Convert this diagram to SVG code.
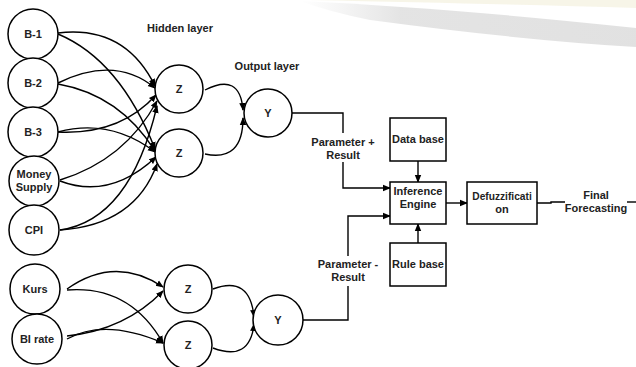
<svg xmlns="http://www.w3.org/2000/svg" width="636" height="367" viewBox="0 0 636 367">
<style>
.n{fill:#fff;stroke:#000;stroke-width:1.5}
.t{font-family:"Liberation Sans",Arial,sans-serif;font-weight:bold;font-size:11px;fill:#222;text-anchor:middle}
.c{fill:none;stroke:#000;stroke-width:1.4}
.a{marker-end:url(#ah)}
</style>
<defs>
<marker id="ah" markerWidth="8" markerHeight="8" refX="7" refY="4" orient="auto" markerUnits="userSpaceOnUse">
<path d="M0,0.8 L8,4 L0,7.2 Z" fill="#000"/>
</marker>
<linearGradient id="sw" x1="0" y1="0" x2="1" y2="0">
<stop offset="0" stop-color="#e2e2e2" stop-opacity="0"/>
<stop offset="0.3" stop-color="#dddddd" stop-opacity="0.8"/>
<stop offset="1" stop-color="#dcdcdc" stop-opacity="0.85"/>
</linearGradient>
</defs>
<rect width="636" height="367" fill="#fff"/>
<path d="M310,0 L636,0 L636,8 Q500,4 310,0 Z" fill="#f4f1de" opacity="0.7"/>
<path d="M300,1 Q450,8 636,28 L636,47 Q520,40 370,20 Q330,12 300,1 Z" fill="url(#sw)"/>
<g id="connectors">
<path class="c a" d="M58,33 Q125,25 155,86"/>
<path class="c a" d="M58,34 Q120,60 155,149"/>
<path class="c a" d="M58,83 Q115,55 155,88"/>
<path class="c a" d="M58,84 Q120,95 155,151"/>
<path class="c a" d="M58,132 Q120,135 156,95"/>
<path class="c a" d="M58,132 Q110,118 155,152"/>
<path class="c a" d="M60,180 Q125,160 157,101"/>
<path class="c a" d="M60,181 Q110,200 156,157"/>
<path class="c a" d="M60,230 Q130,220 157,106"/>
<path class="c a" d="M60,230 Q135,225 157,164"/>
<path class="c a" d="M205,90 Q240,72 243,110"/>
<path class="c a" d="M205,154 Q243,162 243,118"/>
<path class="c a" d="M67,289 Q115,255 163,287"/>
<path class="c a" d="M67,290 Q130,285 163,343"/>
<path class="c a" d="M67,336 Q125,330 163,291"/>
<path class="c a" d="M67,339 Q105,318 163,343"/>
<path class="c a" d="M213,289 Q250,275 254,317"/>
<path class="c a" d="M213,348 Q250,362 254,324"/>
<path class="c" d="M292,113 L343,113 L343,133"/>
<path class="c a" d="M343,162 L343,188 L390,188"/>
<path class="c" d="M303,320 L348,320 L348,286"/>
<path class="c a" d="M348,256 L348,216 L390,216"/>
<path class="c a" d="M418,161 L418,182"/>
<path class="c a" d="M418,243 L418,224"/>
<path class="c a" d="M446,203 L467,203"/>
<path class="c" d="M537,203 L551,203 L551,202 L565,202"/>
<path class="c" d="M627,202 L636,202"/>
</g>
<g id="b1"><circle class="n" cx="33" cy="34" r="25"/><text class="t" x="33" y="38">B-1</text></g>
<g id="b2"><circle class="n" cx="33" cy="83" r="25"/><text class="t" x="33" y="87">B-2</text></g>
<g id="b3"><circle class="n" cx="33" cy="132" r="25"/><text class="t" x="33" y="136">B-3</text></g>
<g id="ms"><circle class="n" cx="34" cy="181" r="25"/><text class="t" x="34" y="178">Money</text><text class="t" x="34" y="191">Supply</text></g>
<g id="cpi"><circle class="n" cx="34" cy="230" r="25"/><text class="t" x="34" y="234">CPI</text></g>
<g id="z1"><circle class="n" cx="179" cy="89" r="24"/><text class="t" x="179" y="93">Z</text></g>
<g id="z2"><circle class="n" cx="179" cy="153" r="24"/><text class="t" x="179" y="157">Z</text></g>
<g id="y1"><circle class="n" cx="268" cy="113" r="24"/><text class="t" x="268" y="117">Y</text></g>
<g id="kurs"><circle class="n" cx="35" cy="289" r="25"/><text class="t" x="35" y="293">Kurs</text></g>
<g id="bi"><circle class="n" cx="37" cy="339" r="25"/><text class="t" x="37" y="343">BI rate</text></g>
<g id="z3"><circle class="n" cx="188" cy="289" r="24"/><text class="t" x="188" y="293">Z</text></g>
<g id="z4"><circle class="n" cx="188" cy="345" r="24"/><text class="t" x="188" y="349">Z</text></g>
<g id="y2"><circle class="n" cx="278" cy="320" r="25"/><text class="t" x="278" y="324">Y</text></g>
<g id="db"><rect class="n" x="390" y="118" width="56" height="43"/><text class="t" x="418" y="143">Data base</text></g>
<g id="ie"><rect class="n" x="390" y="182" width="56" height="42"/><text class="t" x="418" y="195">Inference</text><text class="t" x="418" y="208">Engine</text></g>
<g id="rb"><rect class="n" x="390" y="243" width="56" height="43"/><text class="t" x="418" y="268">Rule base</text></g>
<g id="df"><rect class="n" x="467" y="182" width="70" height="42"/><text class="t" x="502" y="200" style="font-size:10.2px">Defuzzificati</text><text class="t" x="502" y="213">on</text></g>
<g id="labels">
<text class="t" x="180" y="32">Hidden layer</text>
<text class="t" x="267" y="70">Output layer</text>
<text class="t" x="343" y="146">Parameter +</text>
<text class="t" x="343" y="159">Result</text>
<text class="t" x="348" y="268">Parameter -</text>
<text class="t" x="348" y="281">Result</text>
<text class="t" x="596" y="199">Final</text>
<text class="t" x="596" y="212">Forecasting</text>
</g>
</svg>
